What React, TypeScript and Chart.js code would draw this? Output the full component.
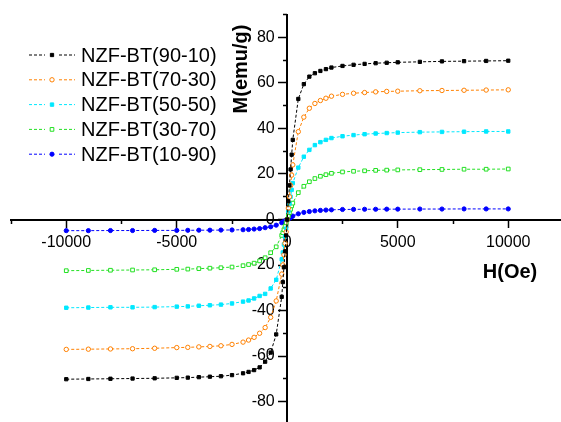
import React, { useEffect, useRef } from 'react';
import { Chart, registerables } from 'chart.js';

Chart.register(...registerables);

// Applied field H (Oe)
const H_OE = [
  -10000, -9000, -8000, -7000, -6000, -5000, -4500, -4000, -3500, -3000, -2500, -2000,
  -1750, -1500, -1250, -1000, -750, -500, -250, -200, -150, -100, -50, 0,
  50, 100, 150, 200, 250, 500, 750, 1000, 1250, 1500, 1750, 2000,
  2500, 3000, 3500, 4000, 4500, 5000, 6000, 7000, 8000, 9000, 10000,
];

// Magnetization M (emu/g)
const M_90_10 = [
  -70.2, -70.1, -70.0, -69.9, -69.8, -69.6, -69.5, -69.3, -69.1, -68.9, -68.4, -67.6,
  -67.0, -66.2, -65.0, -62.5, -58.5, -50.5, -34.0, -27.5, -21.0, -14.0, -7.0, 0,
  8.0, 15.0, 22.0, 28.5, 35.0, 53.0, 59.5, 62.8, 64.3, 65.3, 66.1, 66.8,
  67.5, 68.0, 68.4, 68.7, 68.9, 69.1, 69.3, 69.5, 69.6, 69.7, 69.8,
];
const M_70_30 = [
  -57.1, -57.0, -56.9, -56.8, -56.6, -56.3, -56.2, -56.0, -55.8, -55.5, -54.9, -53.9,
  -53.0, -51.8, -50.0, -47.5, -43.0, -35.8, -24.0, -20.0, -15.5, -10.5, -5.5, 0,
  5.0, 10.0, 15.0, 19.5, 24.0, 38.6, 45.0, 48.9, 51.0, 52.3, 53.3, 54.2,
  55.0, 55.5, 55.8, 56.1, 56.3, 56.4, 56.6, 56.7, 56.8, 56.9, 57.0,
];
const M_50_50 = [
  -38.8, -38.7, -38.6, -38.6, -38.5, -38.3, -38.2, -37.9, -37.7, -37.4, -36.9, -36.1,
  -35.6, -34.7, -33.6, -32.7, -30.3, -26.5, -17.5, -14.5, -11.0, -7.5, -4.0, 0,
  3.5, 7.0, 10.0, 13.0, 16.0, 22.8, 27.6, 30.6, 32.7, 34.0, 35.0, 35.8,
  36.6, 37.1, 37.5, 37.8, 38.0, 38.2, 38.4, 38.5, 38.6, 38.7, 38.7,
];
const M_30_70 = [
  -22.5, -22.4, -22.3, -22.2, -22.1, -21.9, -21.8, -21.6, -21.4, -21.2, -20.9, -20.3,
  -19.8, -19.2, -18.2, -16.8, -14.6, -12.0, -7.0, -5.8, -4.5, -3.0, -1.5, 0,
  1.5, 3.0, 4.5, 6.0, 7.2, 11.8, 14.6, 16.6, 18.0, 19.0, 19.7, 20.3,
  20.9, 21.2, 21.4, 21.6, 21.7, 21.8, 21.9, 22.0, 22.1, 22.1, 22.2,
];
const M_10_90 = [
  -4.9, -4.9, -4.85, -4.85, -4.8, -4.8, -4.75, -4.7, -4.7, -4.65, -4.6, -4.5,
  -4.4, -4.2, -4.0, -3.6, -3.2, -2.5, -1.4, -1.15, -0.9, -0.6, -0.3, 0,
  0.3, 0.6, 0.9, 1.2, 1.5, 2.5, 3.1, 3.5, 3.8, 4.0, 4.15, 4.25,
  4.4, 4.45, 4.5, 4.5, 4.55, 4.55, 4.6, 4.6, 4.65, 4.65, 4.65,
];

const SERIES_LABELS = [
  'NZF-BT(90-10)',
  'NZF-BT(70-30)',
  'NZF-BT(50-50)',
  'NZF-BT(30-70)',
  'NZF-BT(10-90)',
];

const X_MAJOR_TICKS = [-10000, -5000, 0, 5000, 10000];
const X_MINOR_TICKS = [-12500, -7500, -2500, 2500, 7500, 12500];
const Y_MAJOR_TICKS = [-80, -60, -40, -20, 0, 20, 40, 60, 80];
const Y_MINOR_TICKS = [-90, -70, -50, -30, -10, 10, 30, 50, 70, 90];

const X_TITLE = 'H(Oe)';
const Y_TITLE = 'M(emu/g)';

const FONT = '"Liberation Sans", Arial, sans-serif';

type Style = { color: string; shape: 'rect' | 'circle'; radius: number; hollow: boolean };
const STYLES: Style[] = [
  { color: '#000000', shape: 'rect', radius: 2.3, hollow: false },
  { color: '#FF8000', shape: 'circle', radius: 2.2, hollow: true },
  { color: '#00E8FF', shape: 'rect', radius: 2.4, hollow: false },
  { color: '#22E022', shape: 'rect', radius: 2.6, hollow: true },
  { color: '#0000FF', shape: 'circle', radius: 2.1, hollow: false },
];

const SERIES = [M_90_10, M_70_30, M_50_50, M_30_70, M_10_90];

function drawMarker(ctx: CanvasRenderingContext2D, s: Style, x: number, y: number) {
  ctx.beginPath();
  if (s.shape === 'rect') {
    const h = s.radius * Math.SQRT1_2;
    ctx.rect(x - h, y - h, 2 * h, 2 * h);
  } else {
    ctx.arc(x, y, s.radius, 0, Math.PI * 2);
  }
  ctx.fillStyle = s.hollow ? '#ffffff' : s.color;
  ctx.fill();
  ctx.lineWidth = 1;
  ctx.strokeStyle = s.color;
  ctx.stroke();
}

const overlayPlugin = {
  id: 'overlay',
  afterDraw(chart: any) {
    const ctx: CanvasRenderingContext2D = chart.ctx;
    ctx.save();
    // legend
    chart.data.datasets.forEach((ds: any, i: number) => {
      const s = STYLES[i];
      const y = 55 + i * 24.8;
      ctx.strokeStyle = s.color;
      ctx.lineWidth = 1;
      ctx.setLineDash([3, 2]);
      ctx.beginPath();
      ctx.moveTo(29, y);
      ctx.lineTo(45, y);
      ctx.moveTo(59, y);
      ctx.lineTo(75, y);
      ctx.stroke();
      ctx.setLineDash([]);
      drawMarker(ctx, s, 52, y);
      ctx.fillStyle = '#000';
      ctx.font = `20px ${FONT}`;
      ctx.textAlign = 'left';
      ctx.textBaseline = 'middle';
      ctx.fillText(ds.label, 81, y + 1);
    });
    // axis titles
    ctx.fillStyle = '#000';
    ctx.font = `bold 20px ${FONT}`;
    ctx.textAlign = 'center';
    ctx.textBaseline = 'middle';
    ctx.fillText(X_TITLE, 510, 272);
    ctx.translate(241, 69);
    ctx.rotate(-Math.PI / 2);
    ctx.fillText(Y_TITLE, 0, 0);
    ctx.restore();
  },
};

const tickFont = { family: FONT, size: 16 };

export default function App() {
  const ref = useRef<HTMLCanvasElement>(null);
  useEffect(() => {
    const datasets = SERIES.map((m, i) => {
      const s = STYLES[i];
      return {
        label: SERIES_LABELS[i],
        data: H_OE.map((h, j) => ({ x: h, y: m[j] })),
        showLine: true,
        borderColor: s.color,
        borderWidth: 1,
        borderDash: [3, 2],
        backgroundColor: s.hollow ? '#ffffff' : s.color,
        pointBackgroundColor: s.hollow ? '#ffffff' : s.color,
        pointBorderColor: s.color,
        pointBorderWidth: 1,
        pointStyle: s.shape,
        pointRadius: s.radius,
        tension: 0,
      };
    });
    const chart = new Chart(ref.current as HTMLCanvasElement, {
      type: 'scatter',
      data: { datasets },
      options: {
        animation: false,
        responsive: false,
        devicePixelRatio: 1,
        layout: { padding: { left: 11, right: 6.5, top: 14.75, bottom: 15.75 } },
        plugins: { legend: { display: false }, tooltip: { enabled: false } },
        scales: {
          x: {
            type: 'linear',
            min: -12500,
            max: 12500,
            position: { y: 0 },
            afterBuildTicks: (scale: any) => {
              scale.ticks = X_MAJOR_TICKS.map((v) => ({ value: v }));
            },
            ticks: {
              autoSkip: false,
              maxRotation: 0,
              padding: 6,
              color: '#000',
              font: tickFont,
              callback: (v: any) => String(v),
            },
            grid: { drawOnChartArea: false, drawTicks: true, tickLength: 7, tickColor: '#000', tickWidth: 1.5 },
            border: { display: true, color: '#000', width: 2 },
          },
          xMinor: {
            type: 'linear',
            axis: 'x',
            min: -12500,
            max: 12500,
            position: { y: 0 },
            afterBuildTicks: (scale: any) => {
              scale.ticks = X_MINOR_TICKS.map((v) => ({ value: v }));
            },
            ticks: { display: false },
            grid: { drawOnChartArea: false, drawTicks: true, tickLength: 4, tickColor: '#000', tickWidth: 1.5 },
            border: { display: false },
          },
          y: {
            type: 'linear',
            min: -90,
            max: 90,
            position: { x: 0 },
            afterBuildTicks: (scale: any) => {
              scale.ticks = Y_MAJOR_TICKS.map((v) => ({ value: v }));
            },
            ticks: { display: false },
            grid: { drawOnChartArea: false, drawTicks: true, tickLength: 8, tickColor: '#000', tickWidth: 1.5 },
            border: { display: true, color: '#000', width: 2 },
          },
          yLabels: {
            type: 'linear',
            axis: 'y',
            min: -90,
            max: 90,
            position: { x: -565 },
            afterBuildTicks: (scale: any) => {
              scale.ticks = Y_MAJOR_TICKS.map((v) => ({ value: v }));
            },
            ticks: {
              autoSkip: false,
              padding: 0,
              color: '#000',
              font: tickFont,
              callback: (v: any) => String(v),
            },
            grid: { display: false, drawOnChartArea: false, drawTicks: false },
            border: { display: false },
          },
          yMinor: {
            type: 'linear',
            axis: 'y',
            min: -90,
            max: 90,
            position: { x: 0 },
            afterBuildTicks: (scale: any) => {
              scale.ticks = Y_MINOR_TICKS.map((v) => ({ value: v }));
            },
            ticks: { display: false },
            grid: { drawOnChartArea: false, drawTicks: true, tickLength: 4, tickColor: '#000', tickWidth: 1.5 },
            border: { display: false },
          },
        },
      } as any,
      plugins: [overlayPlugin],
    });
    return () => chart.destroy();
  }, []);
  return (
    <div
      style={{
        position: 'absolute',
        left: 0,
        top: 0,
        width: 561,
        height: 422,
        overflow: 'hidden',
        background: '#ffffff',
      }}
    >
      <canvas ref={ref} width={570} height={440} style={{ display: 'block', width: 570, height: 440 }} />
    </div>
  );
}
